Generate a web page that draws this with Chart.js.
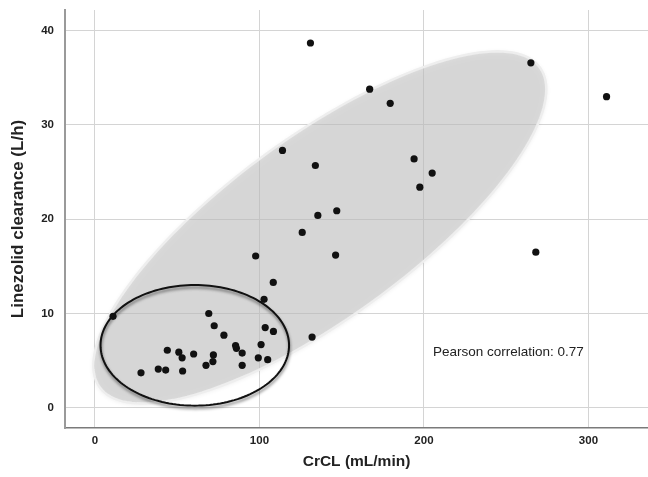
<!DOCTYPE html>
<html>
<head>
<meta charset="utf-8">
<script src="https://cdn.jsdelivr.net/npm/chart.js@4.4.1/dist/chart.umd.min.js"></script>
<style>
  html, body { margin: 0; padding: 0; background: #fff; }
  #wrap { width: 648px; height: 477px; }
</style>
</head>
<body>
<div id="wrap"><canvas id="chart"></canvas></div>
<script>
// CrCL (mL/min) and linezolid clearance (L/h), one entry per patient
const crcl = [131, 265, 311, 167, 179.5, 114, 134, 194, 205, 197.5,
  147, 135.5, 126, 268, 97.7, 146.3, 108.4, 102.8, 69.2, 11,
  72.5, 103.5, 108.5, 78.4, 132, 85.5, 86, 101, 44, 51,
  53, 60, 72, 89.5, 99.3, 105, 71.7, 67.5, 89.5, 38.5,
  43, 53.3, 28]
const clearance = [38.7, 36.6, 33.0, 33.8, 32.3, 27.3, 25.7, 26.4, 24.9, 23.4,
  20.9, 20.4, 18.6, 16.5, 16.1, 16.2, 13.3, 11.5, 10.0, 9.7,
  8.7, 8.5, 8.1, 7.7, 7.5, 6.6, 6.3, 6.7, 6.1, 5.9,
  5.3, 5.7, 5.6, 5.8, 5.3, 5.1, 4.9, 4.5, 4.5, 4.1,
  4.0, 3.9, 3.7]
const xTicks = [0, 100, 200, 300]
const yTicks = [0, 10, 20, 30, 40]
const xTitle = 'CrCL (mL/min)'
const yTitle = 'Linezolid clearance (L/h)'
const pearson = 0.77

// highlight ellipses, in data units: centre plus two semi-axis vectors
const bigEllipse = { cx: 136.7, cy: 19.13, ax: 133.8, ay: 16.97, bx: 32.5, by: -7.81 }
const smallEllipse = { cx: 60.7, cy: 6.62, ax: 57.3, ay: 0, bx: 0, by: 6.4 }
const noteAt = { x: 205.5, y: 5.9 }

const font = '"Liberation Sans", Arial, sans-serif'

function ellipsePath(ctx, xs, ys, e) {
  ctx.beginPath()
  for (let i = 0; i <= 160; i++) {
    const t = i / 160 * Math.PI * 2
    const px = xs.getPixelForValue(e.cx + e.ax * Math.cos(t) + e.bx * Math.sin(t))
    const py = ys.getPixelForValue(e.cy + e.ay * Math.cos(t) + e.by * Math.sin(t))
    if (i) ctx.lineTo(px, py)
    else ctx.moveTo(px, py)
  }
  ctx.closePath()
}

const overlays = {
  id: 'overlays',
  beforeDatasetsDraw(chart) {
    const { ctx, scales: { x, y } } = chart
    ctx.save()
    // big grey region
    ellipsePath(ctx, x, y, bigEllipse)
    ctx.shadowColor = 'rgba(0,0,0,0.16)'
    ctx.shadowBlur = 5
    ctx.shadowOffsetY = 1
    ctx.fillStyle = 'rgba(200,200,200,0.56)'
    ctx.fill()
    ctx.shadowColor = 'transparent'
    ctx.strokeStyle = 'rgba(238,238,238,1)'
    ctx.lineWidth = 2.5
    ctx.stroke()
    // small black ring
    ellipsePath(ctx, x, y, smallEllipse)
    ctx.shadowColor = 'rgba(0,0,0,0.5)'
    ctx.shadowBlur = 3
    ctx.shadowOffsetX = 0.5
    ctx.shadowOffsetY = 2.5
    ctx.strokeStyle = '#111'
    ctx.lineWidth = 2
    ctx.stroke()
    ctx.restore()
  },
  afterDatasetsDraw(chart) {
    const { ctx, scales: { x, y } } = chart
    ctx.save()
    ctx.font = '13.5px ' + font
    ctx.fillStyle = '#222'
    ctx.textAlign = 'left'
    ctx.textBaseline = 'middle'
    ctx.fillText('Pearson correlation: ' + pearson.toFixed(2), x.getPixelForValue(noteAt.x), y.getPixelForValue(noteAt.y))
    ctx.restore()
  }
}

new Chart(document.getElementById('chart'), {
  type: 'scatter',
  data: {
    datasets: [{
      data: crcl.map((v, i) => ({ x: v, y: clearance[i] })),
      backgroundColor: '#111',
      borderWidth: 0,
      pointRadius: 3.6,
      pointHoverRadius: 3.6
    }]
  },
  options: {
    responsive: true,
    maintainAspectRatio: false,
    animation: false,
    layout: { autoPadding: false, padding: { top: 10, right: 0, left: 0, bottom: 0 } },
    plugins: { legend: { display: false }, tooltip: { enabled: false } },
    scales: {
      x: {
        type: 'linear',
        min: -18.2,
        max: 336.2,
        afterBuildTicks: s => { s.ticks = xTicks.map(v => ({ value: v })) },
        afterFit: s => { s.height = 49; s.paddingLeft = 0; s.paddingRight = 0 },
        grid: { color: '#d4d4d4', drawTicks: false },
        border: { color: '#7a7a7a', width: 1.5 },
        ticks: { padding: 6, color: '#222', font: { family: font, size: 11.5, weight: 'bold' } },
        title: { display: true, text: xTitle, color: '#222', padding: { top: 0, bottom: 6 },
          font: { family: font, size: 15.5, weight: 'bold' } }
      },
      y: {
        type: 'linear',
        min: -2.15,
        max: 42.2,
        afterBuildTicks: s => { s.ticks = yTicks.map(v => ({ value: v })) },
        afterFit: s => { s.width = 65; s.paddingTop = 0; s.paddingBottom = 0 },
        grid: { color: '#d4d4d4', drawTicks: false },
        border: { color: '#9a9a9a', width: 2 },
        ticks: { padding: 11, color: '#222', font: { family: font, size: 11.5, weight: 'bold' } },
        title: { display: true, text: yTitle, color: '#222', padding: { top: 8, bottom: 0 },
          font: { family: font, size: 17, weight: 'bold' } }
      }
    }
  },
  plugins: [overlays]
})
</script>
</body>
</html>
